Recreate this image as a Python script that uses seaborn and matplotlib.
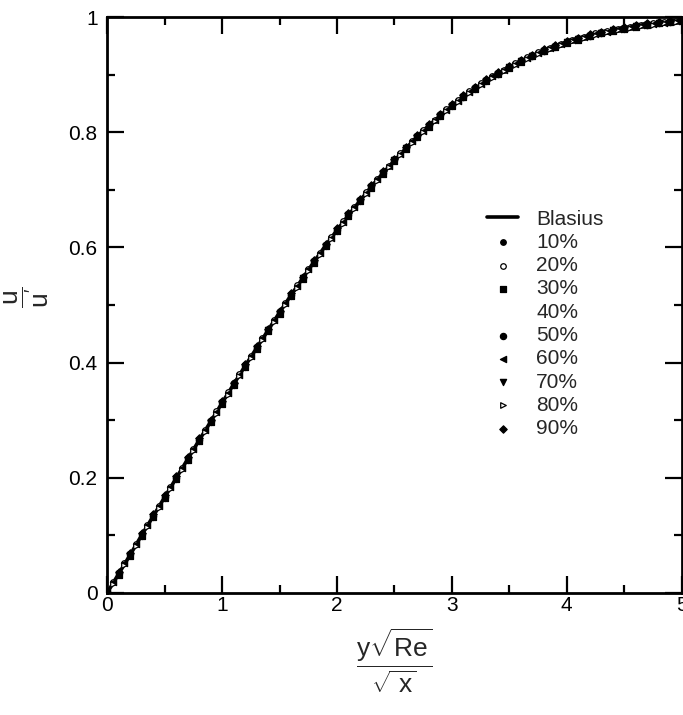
import matplotlib
matplotlib.use("Agg")
import matplotlib.pyplot as plt
import seaborn as sns
import pandas as pd
from matplotlib.ticker import MultipleLocator

# ---------------- data ----------------
eta_blasius = [0.0, 0.1, 0.2, 0.3, 0.4, 0.5, 0.6, 0.7, 0.8, 0.9,
               1.0, 1.1, 1.2, 1.3, 1.4, 1.5, 1.6, 1.7, 1.8, 1.9,
               2.0, 2.1, 2.2, 2.3, 2.4, 2.5, 2.6, 2.7, 2.8, 2.9,
               3.0, 3.1, 3.2, 3.3, 3.4, 3.5, 3.6, 3.7, 3.8, 3.9,
               4.0, 4.1, 4.2, 4.3, 4.4, 4.5, 4.6, 4.7, 4.8, 4.9,
               5.0]
u_blasius = [0.000, 0.033, 0.066, 0.100, 0.133, 0.166, 0.199, 0.232, 0.265, 0.297,
             0.330, 0.362, 0.394, 0.425, 0.456, 0.487, 0.517, 0.546, 0.575, 0.603,
             0.630, 0.656, 0.681, 0.706, 0.729, 0.751, 0.772, 0.793, 0.812, 0.829,
             0.846, 0.862, 0.876, 0.889, 0.902, 0.913, 0.923, 0.933, 0.941, 0.949,
             0.956, 0.962, 0.967, 0.972, 0.976, 0.980, 0.983, 0.985, 0.988, 0.990,
             0.992]

eta_a = eta_blasius
eta_b = [0.05, 0.15, 0.25, 0.35, 0.45, 0.55, 0.65, 0.75, 0.85, 0.95,
         1.05, 1.15, 1.25, 1.35, 1.45, 1.55, 1.65, 1.75, 1.85, 1.95,
         2.05, 2.15, 2.25, 2.35, 2.45, 2.55, 2.65, 2.75, 2.85, 2.95,
         3.05, 3.15, 3.25, 3.35, 3.45, 3.55, 3.65, 3.75, 3.85, 3.95,
         4.05, 4.15, 4.25, 4.35, 4.45, 4.55, 4.65, 4.75, 4.85, 4.95]

u_10 = [0.000, 0.035, 0.068, 0.101, 0.135, 0.168, 0.201, 0.233, 0.267, 0.299,
        0.332, 0.363, 0.396, 0.427, 0.458, 0.489, 0.519, 0.548, 0.577, 0.605,
        0.632, 0.658, 0.683, 0.707, 0.731, 0.753, 0.774, 0.794, 0.813, 0.831,
        0.848, 0.863, 0.878, 0.891, 0.903, 0.914, 0.925, 0.934, 0.943, 0.950,
        0.957, 0.963, 0.969, 0.974, 0.978, 0.982, 0.985, 0.988, 0.991, 0.993,
        0.995]
u_30 = [0.002, 0.031, 0.064, 0.098, 0.131, 0.165, 0.197, 0.231, 0.263, 0.296,
        0.328, 0.361, 0.392, 0.424, 0.455, 0.485, 0.516, 0.545, 0.573, 0.602,
        0.628, 0.655, 0.680, 0.704, 0.728, 0.750, 0.771, 0.791, 0.810, 0.828,
        0.845, 0.861, 0.875, 0.889, 0.901, 0.912, 0.922, 0.932, 0.941, 0.948,
        0.955, 0.961, 0.967, 0.972, 0.976, 0.980, 0.983, 0.986, 0.989, 0.991,
        0.993]
u_50 = [0.001, 0.034, 0.067, 0.102, 0.134, 0.167, 0.200, 0.234, 0.266, 0.298,
        0.331, 0.364, 0.395, 0.426, 0.457, 0.488, 0.518, 0.547, 0.576, 0.604,
        0.631, 0.657, 0.682, 0.706, 0.730, 0.752, 0.773, 0.793, 0.812, 0.830,
        0.847, 0.862, 0.877, 0.890, 0.902, 0.914, 0.924, 0.933, 0.942, 0.950,
        0.956, 0.962, 0.968, 0.973, 0.977, 0.981, 0.984, 0.987, 0.990, 0.992,
        0.994]
u_70 = [0.000, 0.032, 0.065, 0.099, 0.132, 0.164, 0.198, 0.231, 0.264, 0.296,
        0.329, 0.361, 0.393, 0.425, 0.456, 0.486, 0.516, 0.546, 0.574, 0.603,
        0.629, 0.656, 0.681, 0.705, 0.729, 0.751, 0.772, 0.792, 0.811, 0.829,
        0.846, 0.861, 0.876, 0.889, 0.902, 0.913, 0.923, 0.933, 0.941, 0.949,
        0.956, 0.962, 0.967, 0.972, 0.977, 0.980, 0.984, 0.987, 0.989, 0.991,
        0.993]
u_90 = [0.001, 0.036, 0.069, 0.103, 0.136, 0.169, 0.202, 0.235, 0.268, 0.300,
        0.333, 0.365, 0.397, 0.428, 0.459, 0.490, 0.520, 0.549, 0.578, 0.606,
        0.633, 0.659, 0.684, 0.708, 0.732, 0.754, 0.775, 0.795, 0.814, 0.832,
        0.849, 0.864, 0.879, 0.892, 0.904, 0.915, 0.926, 0.935, 0.944, 0.951,
        0.958, 0.964, 0.970, 0.975, 0.979, 0.983, 0.986, 0.989, 0.992, 0.994,
        0.997]
u_20 = [0.018, 0.052, 0.085, 0.118, 0.151, 0.184, 0.217, 0.250, 0.283, 0.315,
        0.348, 0.380, 0.412, 0.443, 0.474, 0.504, 0.534, 0.563, 0.591, 0.618,
        0.645, 0.671, 0.696, 0.719, 0.742, 0.764, 0.784, 0.804, 0.822, 0.840,
        0.856, 0.871, 0.885, 0.898, 0.909, 0.920, 0.930, 0.939, 0.947, 0.954,
        0.961, 0.966, 0.972, 0.976, 0.980, 0.983, 0.986, 0.989, 0.991, 0.993]
u_40 = [0.016, 0.049, 0.082, 0.115, 0.148, 0.181, 0.215, 0.247, 0.280, 0.312,
        0.345, 0.377, 0.409, 0.440, 0.471, 0.501, 0.531, 0.560, 0.588, 0.615,
        0.642, 0.668, 0.693, 0.717, 0.739, 0.761, 0.782, 0.801, 0.820, 0.837,
        0.853, 0.868, 0.882, 0.895, 0.907, 0.918, 0.928, 0.937, 0.945, 0.952,
        0.959, 0.965, 0.970, 0.975, 0.979, 0.982, 0.985, 0.988, 0.990, 0.992]
u_60 = [0.019, 0.051, 0.084, 0.117, 0.150, 0.183, 0.217, 0.249, 0.282, 0.314,
        0.347, 0.379, 0.411, 0.442, 0.473, 0.503, 0.533, 0.562, 0.590, 0.617,
        0.644, 0.670, 0.695, 0.719, 0.741, 0.763, 0.784, 0.803, 0.822, 0.839,
        0.855, 0.870, 0.884, 0.897, 0.909, 0.919, 0.929, 0.938, 0.946, 0.953,
        0.960, 0.966, 0.971, 0.975, 0.979, 0.983, 0.986, 0.988, 0.990, 0.993]
u_80 = [0.015, 0.048, 0.081, 0.114, 0.147, 0.180, 0.214, 0.246, 0.279, 0.311,
        0.344, 0.376, 0.408, 0.439, 0.470, 0.500, 0.530, 0.559, 0.587, 0.614,
        0.641, 0.667, 0.692, 0.716, 0.739, 0.760, 0.781, 0.801, 0.819, 0.837,
        0.853, 0.868, 0.882, 0.895, 0.907, 0.917, 0.927, 0.936, 0.944, 0.952,
        0.958, 0.964, 0.969, 0.974, 0.978, 0.982, 0.985, 0.987, 0.990, 0.992]

series_labels = ["10%", "20%", "30%", "40%", "50%", "60%", "70%", "80%", "90%"]
series_eta = [eta_a, eta_b, eta_a, eta_b, eta_a, eta_b, eta_a, eta_b, eta_a]
series_u = [u_10, u_20, u_30, u_40, u_50, u_60, u_70, u_80, u_90]

x_ticks = [0, 1, 2, 3, 4, 5]
x_ticklabels = ["0", "1", "2", "3", "4", "5"]
y_ticks = [0, 0.2, 0.4, 0.6, 0.8, 1.0]
y_ticklabels = ["0", "0.2", "0.4", "0.6", "0.8", "1"]

# ---------------- styling ----------------
sns.set_theme(style="ticks")
plt.rcParams["font.family"] = ["Liberation Sans", "DejaVu Sans"]
plt.rcParams["mathtext.fontset"] = "custom"
plt.rcParams["mathtext.rm"] = "Liberation Sans"
plt.rcParams["mathtext.it"] = "Liberation Sans"
plt.rcParams["mathtext.bf"] = "Liberation Sans:bold"

marker_styles = {
    "10%": dict(marker="o", s=16, facecolor="black", edgecolor="black"),
    "20%": dict(marker="o", s=16, facecolor="white", edgecolor="black"),
    "30%": dict(marker="s", s=16, facecolor="black", edgecolor="black"),
    "40%": dict(marker=".", s=1, facecolor="white", edgecolor="white"),
    "50%": dict(marker="o", s=20, facecolor="black", edgecolor="black"),
    "60%": dict(marker="<", s=20, facecolor="black", edgecolor="black"),
    "70%": dict(marker="v", s=20, facecolor="black", edgecolor="black"),
    "80%": dict(marker=">", s=16, facecolor="white", edgecolor="black"),
    "90%": dict(marker="D", s=14, facecolor="black", edgecolor="black"),
}

fig = plt.figure(figsize=(6.83, 7.15), dpi=100)
ax = fig.add_axes([0.157, 0.171, 0.841, 0.805])

blasius_df = pd.DataFrame({"eta": eta_blasius, "u": u_blasius})
sns.lineplot(data=blasius_df, x="eta", y="u", ax=ax, color="black",
             linewidth=2.6, label="Blasius", zorder=2)

for lab, et, uu in zip(series_labels, series_eta, series_u):
    df = pd.DataFrame({"eta": et, "u": uu})
    st = marker_styles[lab]
    sns.scatterplot(data=df, x="eta", y="u", ax=ax, marker=st["marker"],
                    s=st["s"], facecolor=st["facecolor"],
                    edgecolor=st["edgecolor"], linewidth=0.9,
                    label=lab, zorder=3)

ax.set_xlim(0, 5)
ax.set_ylim(0, 1)
ax.set_xticks(x_ticks)
ax.set_xticklabels(x_ticklabels)
ax.set_yticks(y_ticks)
ax.set_yticklabels(y_ticklabels)
ax.xaxis.set_minor_locator(MultipleLocator(0.5))
ax.yaxis.set_minor_locator(MultipleLocator(0.1))
ax.tick_params(which="both", direction="in", top=True, right=True,
               width=1.6, colors="black", labelsize=15)
ax.tick_params(axis="y", pad=7)
ax.tick_params(axis="x", pad=2)
ax.tick_params(which="major", length=12)
ax.tick_params(which="minor", length=6)
for sp in ax.spines.values():
    sp.set_linewidth(2.0)
    sp.set_color("black")
ax.grid(False)

ax.set_xlabel(r"$\dfrac{y\sqrt{Re}}{\sqrt{\;x}}$", fontsize=19)
ax.xaxis.set_label_coords(0.5, -0.058, transform=ax.transAxes)
ax.xaxis.label.set_va("top")
ax.set_ylabel(r"$\dfrac{u}{u'}$", fontsize=19)
ax.yaxis.set_label_coords(-0.141, 0.514, transform=ax.transAxes)
ax.yaxis.label.set_va("center")

leg = ax.legend(frameon=False, loc="upper left", bbox_to_anchor=(0.647, 0.68),
                fontsize=15, handlelength=1.5, handletextpad=0.85,
                labelspacing=0.205, borderaxespad=0, markerscale=1.0)

fig.savefig("out.png", dpi=100)
